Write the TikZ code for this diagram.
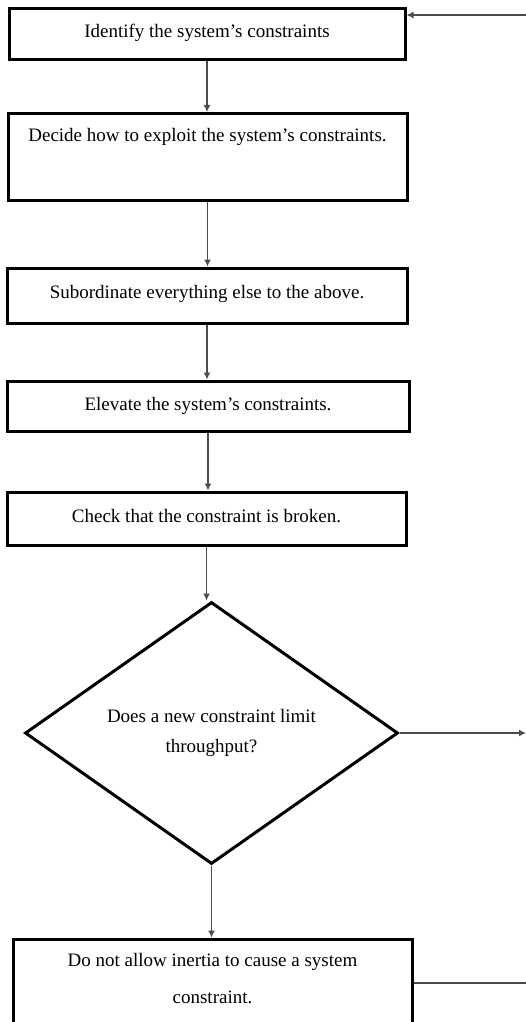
\documentclass[tikz,border=0pt]{standalone}
\usepackage{fontspec}
\setmainfont{Liberation Serif}
\usetikzlibrary{shapes.geometric,arrows.meta}
\begin{document}
\begin{tikzpicture}[>={Latex[length=7pt,width=7pt]},x=1pt,y=-1pt,
    stepbox/.style={draw, line width=3pt, inner sep=0pt, font=\fontsize{19}{22}\selectfont},
    decision/.style={draw, diamond, line width=3pt, inner sep=0pt, align=center,
      minimum width=373pt, minimum height=262pt, font=\fontsize{19}{30}\selectfont},
    flow/.style={->, line width=1.3pt, black!70}]
  \useasboundingbox (0,0) rectangle (526,1022);

  % Nodes
  \node[stepbox, minimum width=396pt, minimum height=51pt] (Ident) at (207,34.5)
    {Identify the system’s constraints\rule[-7pt]{0pt}{0pt}};
  \node[stepbox, anchor=north, minimum width=399pt, text height=28pt, text depth=59pt] (Exploit) at (207.5,112)
    {Decide how to exploit the system’s constraints.};
  \node[stepbox, minimum width=400pt, minimum height=55pt] (Subord) at (207,295.5)
    {Subordinate everything else to the above.\rule[-7pt]{0pt}{0pt}};
  \node[stepbox, minimum width=402pt, minimum height=50pt] (Elev) at (208,406)
    {Elevate the system’s constraints.};
  \node[stepbox, minimum width=399pt, minimum height=53pt] (Check) at (206.5,518.5)
    {Check that the constraint is broken.\rule[-5pt]{0pt}{0pt}};
  \node[decision] (NewCon) at (211.5,733)
    {Does a new constraint limit\\throughput?};
  \node[stepbox, minimum width=399pt, minimum height=88pt, align=center,
    font=\fontsize{19}{37}\selectfont] (Inertia) at (212.5,983)
    {Do not allow inertia to cause a system\\constraint.\rule[-9pt]{0pt}{0pt}};

  % Loose ends at the right edge
  \coordinate (backTop) at (526,15);
  \coordinate (outMid) at (526,733);
  \coordinate (outBot) at (526,983);

  % Arrows
  \draw[flow] (Ident.south) -- (Ident.south |- Exploit.north);
  \draw[flow] (Exploit.south) -- (Exploit.south |- Subord.north);
  \draw[flow] (Subord.south) -- (Subord.south |- Elev.north);
  \draw[flow] (Elev.south) -- (Elev.south |- Check.north);
  \draw[flow] (Check.south) -- (Check.south |- NewCon.north);
  \draw[flow] (NewCon.south) -- (NewCon.south |- Inertia.north);
  \draw[flow] (NewCon.east) -- (outMid);
  \draw[flow] (backTop) -- (backTop -| Ident.east);
  \draw[line width=1.3pt, black!70] (Inertia.east) -- (outBot);
\end{tikzpicture}
\end{document}
